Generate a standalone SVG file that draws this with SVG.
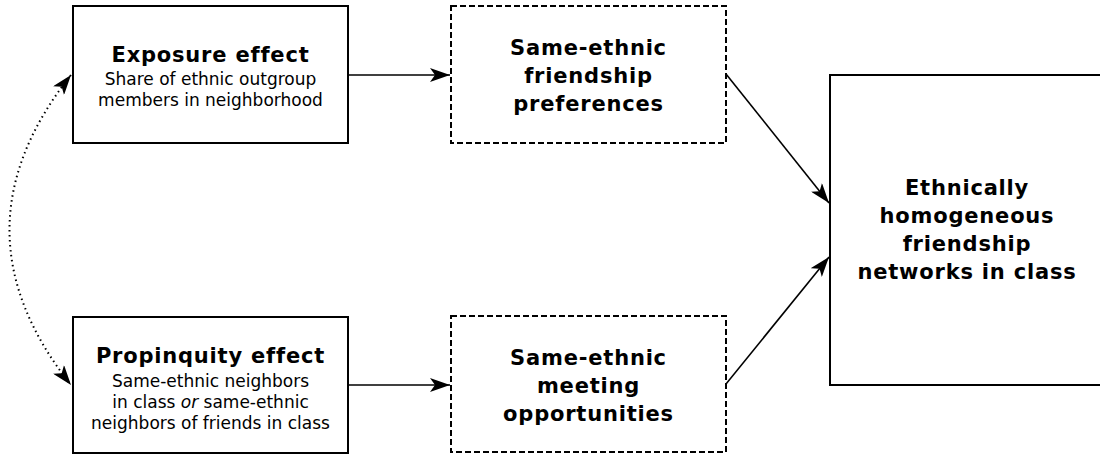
<svg xmlns="http://www.w3.org/2000/svg" width="1100" height="454" viewBox="0 0 1100 454">
  <style>
    .box { fill: #fff; stroke: #000; stroke-width: 2; }
    .dashed { stroke-dasharray: 6 3; }
    .title { font-family: "DejaVu Sans", sans-serif; font-weight: bold; font-size: 21px; letter-spacing: 0.8px; text-anchor: middle; fill: #000; }
    .body { font-family: "DejaVu Sans", sans-serif; font-size: 17px; text-anchor: middle; fill: #000; }
    .edge { fill: none; stroke: #000; stroke-width: 1.6; }
    .dotted { stroke-dasharray: 1.5 3.5; stroke-width: 2; }
  </style>
  <defs>
    <marker id="head" viewBox="0 0 20 14" refX="20" refY="7" markerWidth="20" markerHeight="14" markerUnits="userSpaceOnUse" orient="auto-start-reverse">
      <path d="M0,0 L20,7 L0,14 L5,7 Z" fill="#000"/>
    </marker>
  </defs>

  <rect width="1100" height="454" fill="#fff"/>

  <g id="connectors">
    <line class="edge" x1="348" y1="75" x2="450" y2="75" marker-end="url(#head)"/>
    <line class="edge" x1="348" y1="385" x2="450" y2="385" marker-end="url(#head)"/>
    <line class="edge" x1="726" y1="74" x2="829" y2="203" marker-end="url(#head)"/>
    <line class="edge" x1="726" y1="384" x2="829" y2="257" marker-end="url(#head)"/>
    <path class="edge dotted" d="M71,75 Q-52,230 71,385" marker-start="url(#head)" marker-end="url(#head)"/>
  </g>

  <g id="exposure">
    <rect class="box" x="73" y="6" width="275" height="137"/>
    <text class="title" x="210.5" y="62">Exposure effect</text>
    <text class="body" x="210.5" y="85">Share of ethnic outgroup</text>
    <text class="body" x="210.5" y="106">members in neighborhood</text>
  </g>

  <g id="preferences">
    <rect class="box dashed" x="451" y="6" width="275" height="137"/>
    <text class="title" x="588.5" y="55">Same-ethnic</text>
    <text class="title" x="588.5" y="83">friendship</text>
    <text class="title" x="588.5" y="111">preferences</text>
  </g>

  <g id="propinquity">
    <rect class="box" x="73" y="317" width="275" height="136"/>
    <text class="title" x="210.5" y="363">Propinquity effect</text>
    <text class="body" x="210.5" y="387">Same-ethnic neighbors</text>
    <text class="body" x="210.5" y="408">in class <tspan font-style="italic">or</tspan> same-ethnic</text>
    <text class="body" x="210.5" y="429">neighbors of friends in class</text>
  </g>

  <g id="opportunities">
    <rect class="box dashed" x="451" y="316" width="275" height="136"/>
    <text class="title" x="588.5" y="365">Same-ethnic</text>
    <text class="title" x="588.5" y="393">meeting</text>
    <text class="title" x="588.5" y="421">opportunities</text>
  </g>

  <g id="outcome">
    <rect class="box" x="830" y="75" width="274" height="310"/>
    <text class="title" x="967" y="195">Ethnically</text>
    <text class="title" x="967" y="223">homogeneous</text>
    <text class="title" x="967" y="251">friendship</text>
    <text class="title" x="967" y="279">networks in class</text>
  </g>
</svg>
